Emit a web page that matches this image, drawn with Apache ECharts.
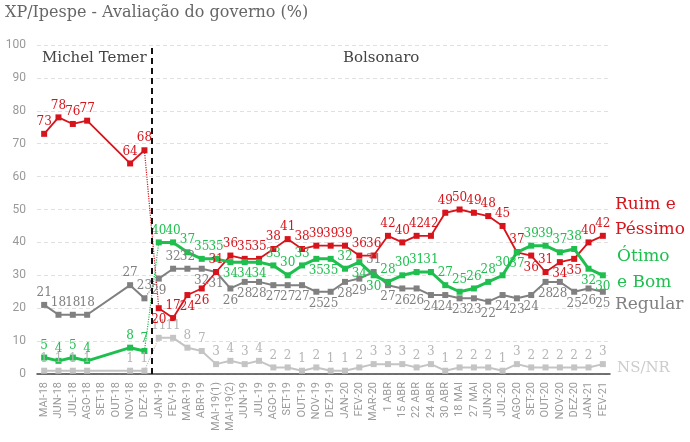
<!DOCTYPE html>
<html>
<head>
<meta charset="utf-8">
<script src="https://cdn.jsdelivr.net/npm/echarts@6/dist/echarts.min.js"></script>
<style>
  html, body { margin: 0; padding: 0; background: #fff; }
  #chart { width: 690px; height: 442px; }
</style>
</head>
<body>
<div id="chart"></div>
<script>
// categorias (pesquisas)
const categories = ['MAI-18', 'JUN-18', 'JUL-18', 'AGO-18', 'SET-18', 'OUT-18', 'NOV-18', 'DEZ-18',
  'JAN-19', 'FEV-19', 'MAR-19', 'ABR-19', 'MAI-19(1)', 'MAI-19(2)', 'JUN-19', 'JUL-19', 'AGO-19', 'SET-19',
  'OUT-19', 'NOV-19', 'DEZ-19', 'JAN-20', 'FEV-20', 'MAR-20', '1 ABR', '15 ABR', '22 ABR', '24 ABR', '30 ABR',
  '18 MAI', '27 MAI', 'JUN-20', 'JUL-20', 'AGO-20', 'SET-20', 'OUT-20', 'NOV-20', 'DEZ-20', 'JAN-21', 'FEV-21'];

// valores (%)
const ruim = [73, 78, 76, 77, null, null, 64, 68,
  20, 17, 24, 26, 31, 36, 35, 35, 38, 41, 38, 39, 39, 39, 36, 36, 42, 40, 42, 42, 49, 50, 49, 48, 45, 37, 36, 31, 34, 35, 40, 42];
const otimo = [5, 4, 5, 4, null, null, 8, 7,
  40, 40, 37, 35, 35, 34, 34, 34, 33, 30, 33, 35, 35, 32, 34, 30, 28, 30, 31, 31, 27, 25, 26, 28, 30, 37, 39, 39, 37, 38, 32, 30];
const regular = [21, 18, 18, 18, null, null, 27, 23,
  29, 32, 32, 32, 31, 26, 28, 28, 27, 27, 27, 25, 25, 28, 29, 31, 27, 26, 26, 24, 24, 23, 23, 22, 24, 23, 24, 28, 28, 25, 26, 25];
const nsnr = [1, 1, 1, 1, null, null, 1, 1,
  11, 11, 8, 7, 3, 4, 3, 4, 2, 2, 1, 2, 1, 1, 2, 3, 3, 3, 2, 3, 1, 2, 2, 2, 1, 3, 2, 2, 2, 2, 2, 3];

const yTicks = [0, 10, 20, 30, 40, 50, 60, 70, 80, 90, 100];

// índices cujo rótulo fica do lado oposto ao padrão
const ruimFlip = [8, 10, 11, 34, 36, 37];
const otimoFlip = [13, 14, 15, 19, 20, 22, 23, 33, 38, 39];
const regularFlip = [0, 1, 2, 3, 6, 7, 9, 10, 23];

const FONT = '"DejaVu Serif", serif';
const RED = '#d7141c', GREEN = '#1fbf4f', GREY = '#808080', LIGHT = '#c4c4c4';

const TEMER_END = 7, BOLSO_START = 8;

function part(arr, from, to, def, flip) {
  return arr.map((v, i) => {
    if (i < from || i > to || v == null) return null;
    if (!def) return v;
    const alt = def === 'top' ? 'bottom' : 'top';
    return { value: v, label: { position: flip.includes(i) ? alt : def } };
  });
}

function build(name, arr, color, width, def, flip, labelColor) {
  const common = {
    type: 'line', symbol: 'rect', symbolSize: 6, connectNulls: true,
    itemStyle: { color: color },
    lineStyle: { color: color, width: width },
    label: { show: true, color: labelColor || color, fontFamily: FONT, fontSize: 12, distance: 3 },
    emphasis: { disabled: true },
  };
  return [
    Object.assign({}, common, { name: name + ' Temer', data: part(arr, 0, TEMER_END, def, flip) }),
    Object.assign({}, common, { name: name, data: part(arr, BOLSO_START, arr.length - 1, def, flip) }),
    {
      type: 'line', name: name + ' transição', symbol: 'none', silent: true,
      data: part(arr, TEMER_END, BOLSO_START),
      lineStyle: { color: color, width: 1.2, type: 'dotted' },
    },
  ];
}

const chart = echarts.init(document.getElementById('chart'));

const option = {
  animation: false,
  grid: { left: 37, right: 80, top: 45, bottom: 68 },
  xAxis: [{
    type: 'category',
    data: categories,
    boundaryGap: true,
    axisLine: { lineStyle: { color: '#444', width: 1.5 } },
    axisTick: { show: false },
    axisLabel: { interval: 0, rotate: 90, color: '#9a9a9a', fontSize: 11, fontFamily: 'Roboto', margin: 8 },
    splitLine: { show: false },
  }, {
    // eixo auxiliar (oculto) para a linha que separa os governos
    type: 'value', min: 0, max: categories.length, show: false,
  }],
  yAxis: {
    type: 'value',
    min: yTicks[0], max: yTicks[yTicks.length - 1], interval: 10,
    axisLine: { show: false },
    axisTick: { show: false },
    axisLabel: { color: '#999', fontSize: 12, fontFamily: 'Roboto', margin: 11 },
    splitLine: { lineStyle: { color: '#e0e0e0', type: [4, 3] } },
  },
  series: [].concat(
    build('NS/NR', nsnr, LIGHT, 2, 'top', [], '#b5b5b5'),
    build('Regular', regular, GREY, 2, 'bottom', regularFlip),
    build('Ruim e Péssimo', ruim, RED, 1.8, 'top', ruimFlip),
    build('Ótimo e Bom', otimo, GREEN, 3, 'top', otimoFlip),
    [{
      type: 'line', name: 'divisor', xAxisIndex: 1, data: [], silent: true,
      markLine: {
        symbol: 'none', silent: true, label: { show: false },
        lineStyle: { color: '#111', width: 2, type: [6, 4] },
        data: [{ xAxis: BOLSO_START }],
      },
    }]
  ),
  graphic: [
    { type: 'text', left: 5, top: 5, style: { text: 'XP/Ipespe - Avaliação do governo (%)', font: '16px ' + FONT, fill: '#666' } },
    { type: 'text', left: 42, top: 51, style: { text: 'Michel Temer', font: '15px ' + FONT, fill: '#444' } },
    { type: 'text', left: 343, top: 51, style: { text: 'Bolsonaro', font: '15px ' + FONT, fill: '#444' } },
    { type: 'text', left: 615, top: 192, style: { text: 'Ruim e\nPéssimo', font: '17px ' + FONT, fill: RED, lineHeight: 25 } },
    { type: 'text', left: 617, top: 244, style: { text: 'Ótimo\ne Bom', font: '17px ' + FONT, fill: GREEN, lineHeight: 26 } },
    { type: 'text', left: 615, top: 296, style: { text: 'Regular', font: '17px ' + FONT, fill: GREY } },
    { type: 'text', left: 617, top: 361, style: { text: 'NS/NR', font: '15px ' + FONT, fill: '#ccc' } },
  ],
};

chart.setOption(option);
</script>
</body>
</html>
